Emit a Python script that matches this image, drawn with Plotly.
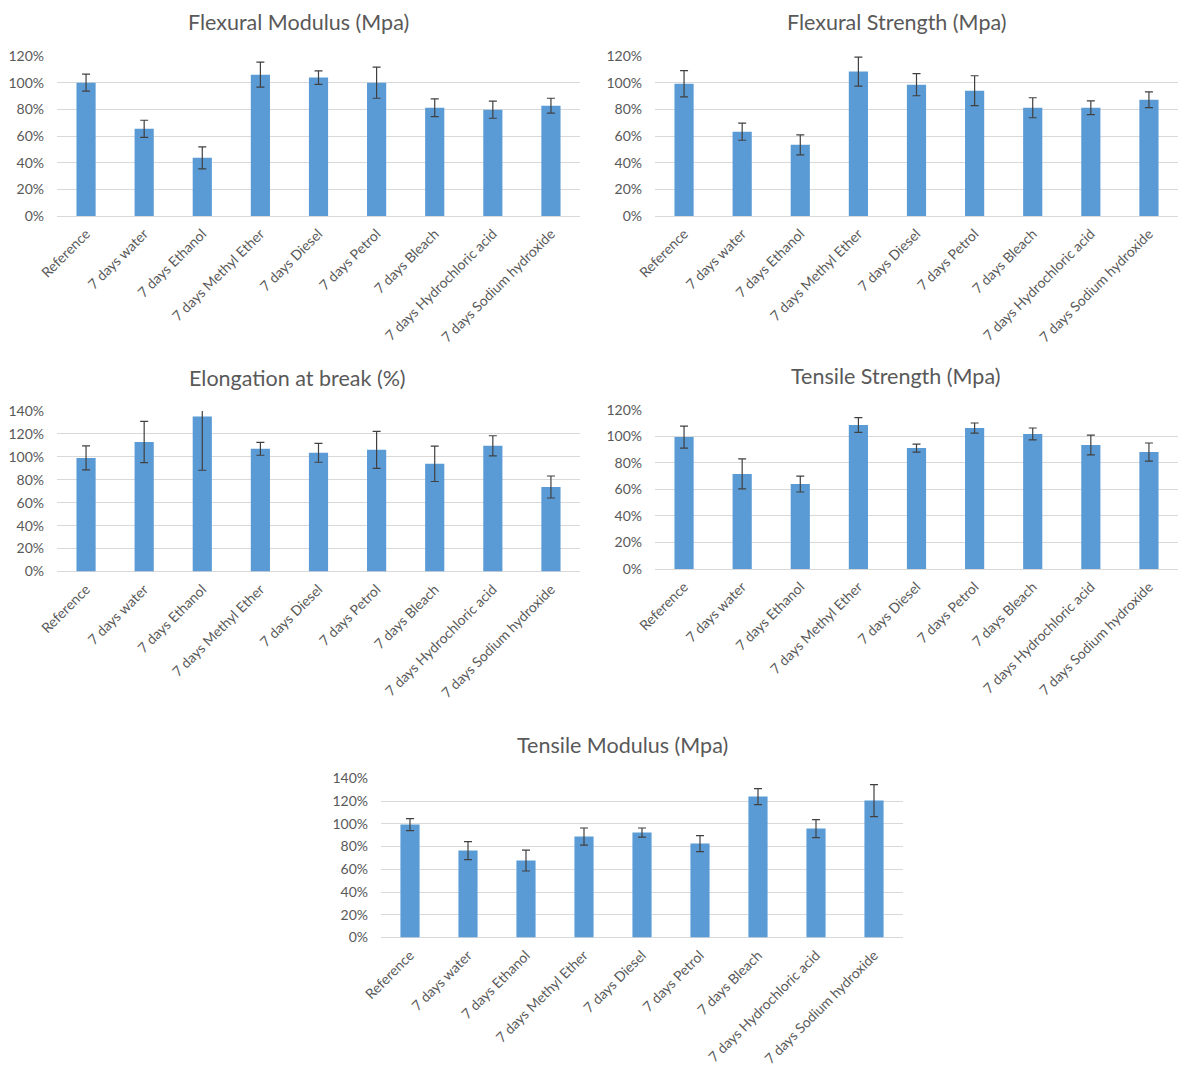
import plotly.graph_objects as go

categories = ["Reference", "7 days water", "7 days Ethanol", "7 days Methyl Ether",
              "7 days Diesel", "7 days Petrol", "7 days Bleach",
              "7 days Hydrochloric acid", "7 days Sodium hydroxide"]

flex_modulus = [100.0, 65.4, 43.6, 106.0, 103.8, 100.0, 81.2, 79.7, 82.7]
flex_modulus_err = [6.4, 6.4, 8.3, 9.4, 5.1, 11.7, 6.7, 6.4, 5.6]

flex_strength = [99.2, 63.2, 53.4, 108.3, 98.5, 94.0, 81.2, 81.2, 87.2]
flex_strength_err = [9.8, 6.4, 7.5, 10.9, 8.3, 11.2, 7.5, 5.2, 5.9]

elongation = [99.1, 112.9, 135.1, 107.0, 103.5, 106.1, 93.9, 109.6, 73.7]
elongation_err = [10.4, 18.0, 46.8, 5.6, 8.2, 16.2, 15.4, 8.8, 9.6]

tensile_strength = [99.4, 71.6, 64.0, 108.5, 91.1, 106.2, 101.7, 93.4, 88.1]
tensile_strength_err = [8.3, 11.3, 6.0, 5.6, 3.0, 3.8, 4.5, 7.5, 6.8]

tensile_modulus = [99.3, 76.4, 67.7, 88.8, 92.3, 82.6, 123.9, 95.8, 120.4]
tensile_modulus_err = [5.3, 7.9, 9.2, 7.5, 4.0, 7.0, 7.0, 7.9, 14.1]

titles = ["Flexural Modulus (Mpa)", "Flexural Strength (Mpa)", "Elongation at break (%)",
          "Tensile Strength (Mpa)", "Tensile Modulus (Mpa)"]

# page body has an 8px default margin; size the figure so the page fits the window
OFF = 8
W, H = 1192 - 2 * OFF, 1077 - 2 * OFF
FONT = "Lato, 'Open Sans', sans-serif"
TXT = "#595959"
BAR = "#5B9BD5"
GRID = "#D9D9D9"
ERR = "#404040"


def fx(px):
    return (px - OFF) / W


def fy(py):
    return 1 - (py - OFF) / H


# panels: (values, errors, ymax, x0, x1, ytop, ybottom, title_x, title_y) in window pixels
panels = [
    (flex_modulus, flex_modulus_err, 120, 57, 580, 56, 216, 298, 22),
    (flex_strength, flex_strength_err, 120, 655, 1178, 56, 216, 897, 22),
    (elongation, elongation_err, 140, 57, 580, 411, 571.5, 297, 378),
    (tensile_strength, tensile_strength_err, 120, 655, 1178, 409.7, 569, 896, 376),
    (tensile_modulus, tensile_modulus_err, 140, 381, 903, 778.3, 937.5, 622, 745),
]

fig = go.Figure()
annotations = []
layout_axes = {}
for i, (vals, errs, ymax, x0, x1, yt, yb, tx, ty) in enumerate(panels):
    n = "" if i == 0 else str(i + 1)
    fig.add_trace(go.Bar(
        x=categories, y=[v / 100 for v in vals],
        error_y=dict(type="data", array=[e / 100 for e in errs], visible=True,
                     color=ERR, thickness=1.2, width=4),
        marker=dict(color=BAR, line=dict(width=0)),
        xaxis="x" + n, yaxis="y" + n, showlegend=False,
    ))
    layout_axes["xaxis" + n] = dict(
        domain=[fx(x0), fx(x1)], anchor="y" + n, automargin=False,
        tickangle=-45, tickfont=dict(family=FONT, size=14, color=TXT),
        showline=False, showgrid=False, ticks="", ticklabelstandoff=6,
        fixedrange=True,
    )
    layout_axes["yaxis" + n] = dict(
        domain=[fy(yb), fy(yt)], anchor="x" + n, automargin=False,
        range=[0, ymax / 100], dtick=0.2, tickformat=".0%",
        tickfont=dict(family=FONT, size=14, color=TXT),
        showgrid=True, gridcolor=GRID, gridwidth=1,
        zeroline=True, zerolinecolor=GRID, zerolinewidth=1,
        showline=False, ticks="", ticklabelstandoff=12, fixedrange=True,
    )
    annotations.append(dict(
        text=titles[i], x=fx(tx), y=fy(ty),
        xref="paper", yref="paper", xanchor="center", yanchor="middle",
        showarrow=False, font=dict(family=FONT, size=21.5, color=TXT),
    ))

fig.update_layout(
    template="none",
    width=W, height=H, margin=dict(l=0, r=0, t=0, b=0, pad=0),
    paper_bgcolor="white", plot_bgcolor="white",
    bargap=0.67, annotations=annotations, **layout_axes,
)

fig.write_html("out.html")
